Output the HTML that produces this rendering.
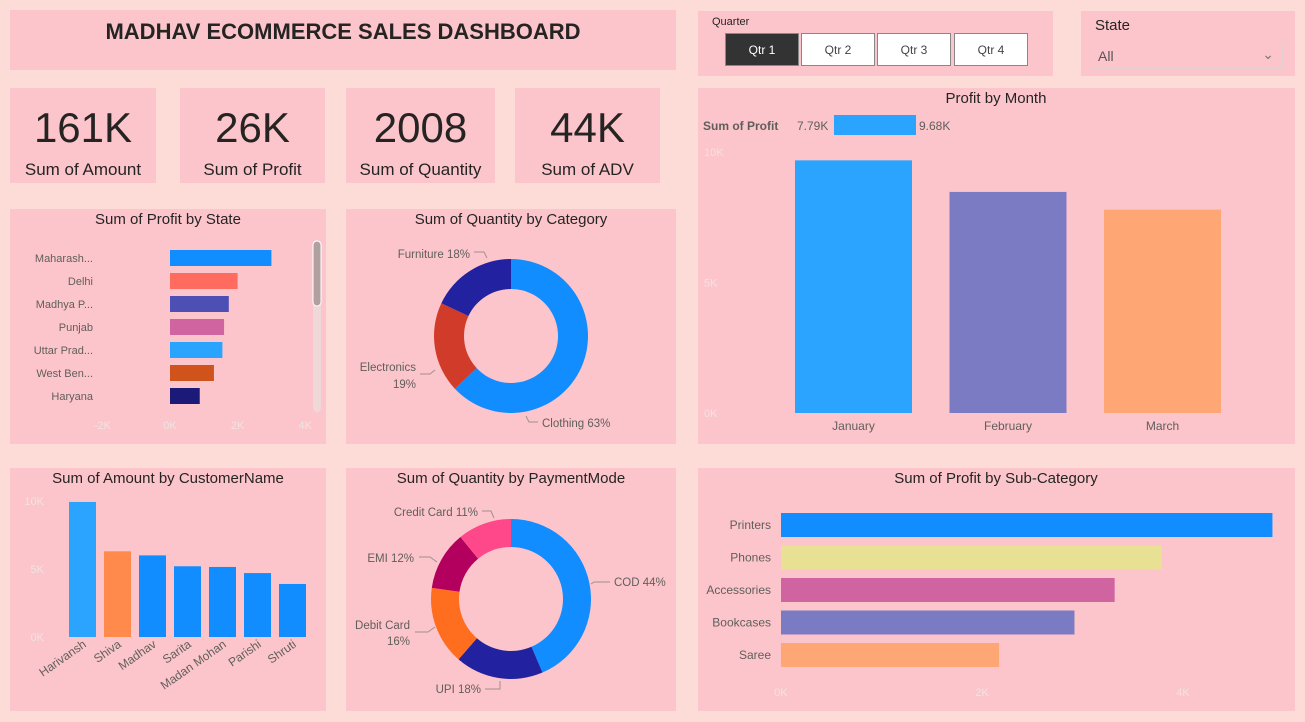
<!DOCTYPE html>
<html><head><meta charset="utf-8"><style>
body{margin:0;width:1305px;height:722px;background:#fddcd7;font-family:"Liberation Sans",sans-serif;position:relative;overflow:hidden}
.p{position:absolute;background:#fcc5cb}
.kv{position:absolute;left:0;right:0;text-align:center;font-size:42px;color:#252423;top:16px}
.kl{position:absolute;left:0;right:0;text-align:center;font-size:17px;color:#252423;top:72px}
.qb{position:absolute;top:22px;width:74px;height:33px;border:1px solid #888;background:#fff;font-size:12px;text-align:center;line-height:33px;color:#444;box-sizing:border-box}
svg{position:absolute;left:0;top:0}
</style></head><body>
<div class="p" style="left:10px;top:10px;width:666px;height:60px"><div style="text-align:center;font-size:22px;font-weight:bold;color:#252423;line-height:44px">MADHAV ECOMMERCE SALES DASHBOARD</div></div>
<div class="p" style="left:698px;top:11px;width:355px;height:65px">
<div style="position:absolute;left:14px;top:5px;font-size:11px;color:#252423">Quarter</div>
<div class="qb" style="left:27px;background:#333;color:#fff">Qtr 1</div>
<div class="qb" style="left:103px">Qtr 2</div>
<div class="qb" style="left:179px">Qtr 3</div>
<div class="qb" style="left:256px">Qtr 4</div></div>
<div class="p" style="left:1081px;top:11px;width:214px;height:65px">
<div style="position:absolute;left:14px;top:6px;font-size:15px;color:#252423">State</div>
<div style="position:absolute;left:10px;top:30px;width:192px;height:28px;border:1px solid #e6d0d2;box-sizing:border-box;font-size:14px;color:#555;line-height:28px;padding-left:6px">All<span style="position:absolute;right:8px;top:-2px;color:#777">&#8964;</span></div></div>
<div class="p" style="left:10px;top:88px;width:146px;height:95px"><div class="kv">161K</div><div class="kl">Sum of Amount</div></div>
<div class="p" style="left:180px;top:88px;width:145px;height:95px"><div class="kv">26K</div><div class="kl">Sum of Profit</div></div>
<div class="p" style="left:346px;top:88px;width:149px;height:95px"><div class="kv">2008</div><div class="kl">Sum of Quantity</div></div>
<div class="p" style="left:515px;top:88px;width:145px;height:95px"><div class="kv">44K</div><div class="kl">Sum of ADV</div></div>
<div class="p" style="left:10px;top:209px;width:316px;height:235px"></div>
<div class="p" style="left:346px;top:209px;width:330px;height:235px"></div>
<div class="p" style="left:698px;top:88px;width:597px;height:356px"></div>
<div class="p" style="left:10px;top:468px;width:316px;height:243px"></div>
<div class="p" style="left:346px;top:468px;width:330px;height:243px"></div>
<div class="p" style="left:698px;top:468px;width:597px;height:243px"></div>
<svg id="s" width="1305" height="722" font-family="Liberation Sans, sans-serif"></svg>
<script>
const stateNames=["Maharash...","Delhi","Madhya P...","Punjab","Uttar Prad...","West Ben...","Haryana"];
const stateProfit=[3.0,2.0,1.74,1.6,1.55,1.3,0.88];
const stateTicks=[-2,0,2,4];
const months=["January","February","March"];
const monthProfit=[9.68,8.47,7.79];
const monthTicks=[0,5,10];
const subcats=["Printers","Phones","Accessories","Bookcases","Saree"];
const subProfit=[4.89,3.79,3.32,2.92,2.17];
const subTicks=[0,2,4];
const customers=["Harivansh","Shiva","Madhav","Sarita","Madan Mohan","Parishi","Shruti"];
const custAmount=[9.93,6.3,6.0,5.2,5.15,4.7,3.9];
const custTicks=[0,5,10];
const categories=["Clothing","Electronics","Furniture"];
const catPct=[63,19,18];
const payModes=["COD","UPI","Debit Card","EMI","Credit Card"];
const payPct=[44,18,16,12,11];

const S=document.getElementById('s');const NS='http://www.w3.org/2000/svg';
function mk(t,a,txt){const e=document.createElementNS(NS,t);for(const k in a)e.setAttribute(k,a[k]);if(txt!==undefined)e.textContent=txt;S.appendChild(e);return e;}
function title(x,y,t,n){const e=mk('text',{x:x,y:y,'text-anchor':'middle','font-size':15,fill:'#252423'},t);}
const axc='#efe3e4',lc='#605e5c';
// state chart
title(168,224,'Sum of Profit by State','state-chart-title');
const sx=v=>170+v*33.8;
const sCol=['#118dff','#ff6b5f','#4e4fb5','#d064a0','#2aa4ff','#d0531b','#1c1a78'];
stateNames.forEach((n,i)=>{const y=258+i*23;
const r=mk('rect',{x:sx(0),y:y-8,width:sx(stateProfit[i])-sx(0),height:16,fill:sCol[i]});

const t=mk('text',{x:93,y:y+4,'text-anchor':'end','font-size':11,fill:lc},n);});
stateTicks.forEach(v=>{const t=mk('text',{x:sx(v),y:429,'text-anchor':'middle','font-size':11,fill:axc},v+'K');});
const sb=mk('rect',{x:313,y:240,width:8,height:172,rx:4,fill:'#f0d8d8'});
const st=mk('rect',{x:313,y:241,width:8,height:65,rx:4,fill:'#b0a0a0',stroke:'#fff'});
// month chart
title(996,103,'Profit by Month','month-chart-title');
const my=v=>413-v*26.1;
const mCol=['#2aa4ff','#7b7bc4','#ffa675'];
months.forEach((m,i)=>{const x=795+i*154.5;
const r=mk('rect',{x:x,y:my(monthProfit[i]),width:117,height:my(0)-my(monthProfit[i]),fill:mCol[i]});
const t=mk('text',{x:x+58.5,y:430,'text-anchor':'middle','font-size':12,fill:lc},m);});
monthTicks.forEach(v=>{const t=mk('text',{x:704,y:my(v)+4,'font-size':11,fill:axc},v+'K');});
const lg1=mk('text',{x:703,y:130,'font-size':12,'font-weight':'bold',fill:lc},'Sum of Profit');
const lg2=mk('text',{x:797,y:130,'font-size':12,fill:lc},Math.min(...monthProfit).toFixed(2)+'K');
const lg3=mk('rect',{x:834,y:115,width:82,height:20,fill:'#2aa4ff'});
const lg4=mk('text',{x:919,y:130,'font-size':12,fill:lc},Math.max(...monthProfit).toFixed(2)+'K');
// subcategory
title(996,483,'Sum of Profit by Sub-Category','subcategory-chart-title');
const bx=v=>781+v*100.5;
const bCol=['#118dff','#e8e193','#d064a0','#7b7bc4','#ffa675'];
subcats.forEach((n,i)=>{const y=525+i*32.5;
const r=mk('rect',{x:bx(0),y:y-12,width:bx(subProfit[i])-bx(0),height:24,fill:bCol[i]});
const t=mk('text',{x:771,y:y+4,'text-anchor':'end','font-size':12,fill:lc},n);});
subTicks.forEach(v=>{const t=mk('text',{x:bx(v),y:696,'text-anchor':'middle','font-size':11,fill:axc},v+'K');});
// customer
title(168,483,'Sum of Amount by CustomerName','customer-chart-title');
const cy=v=>637-v*13.6;
customers.forEach((n,i)=>{const x=69+i*35;
const r=mk('rect',{x:x,y:cy(custAmount[i]),width:27,height:cy(0)-cy(custAmount[i]),fill:i==0?'#2aa4ff':i==1?'#ff8a4b':'#118dff'});
const t=mk('text',{x:x+18,y:646,'text-anchor':'end','font-size':12,fill:lc,transform:`rotate(-35 ${x+18} 646)`},n);});
custTicks.forEach(v=>{const t=mk('text',{x:44,y:cy(v)+4,'text-anchor':'end','font-size':11,fill:axc},v+'K');});
// donuts
function donut(cx,cy0,R,r,vals,cols,name){const tot=vals.reduce((a,b)=>a+b,0);let a0=0;
vals.forEach((v,i)=>{const a1=a0+v/tot*2*Math.PI;const p=(a,rr)=>[cx+rr*Math.sin(a),cy0-rr*Math.cos(a)];
const [x1,y1]=p(a0,R),[x2,y2]=p(a1,R),[x3,y3]=p(a1,r),[x4,y4]=p(a0,r);const lg=a1-a0>Math.PI?1:0;
const e=mk('path',{d:`M${x1},${y1}A${R},${R} 0 ${lg} 1 ${x2},${y2}L${x3},${y3}A${r},${r} 0 ${lg} 0 ${x4},${y4}Z`,fill:cols[i]});a0=a1;});}
title(511,224,'Sum of Quantity by Category','category-chart-title');
donut(511,336,77,47,catPct,['#118dff','#d13b2a','#2222a0'],'category-slice');
title(511,483,'Sum of Quantity by PaymentMode','payment-chart-title');
donut(511,599,80,52,payPct,['#118dff','#2222a0','#ff6d1f','#b3005f','#ff4889'],'payment-slice');
function lab(x,y,t,anc,n){const e=mk('text',{x:x,y:y,'text-anchor':anc,'font-size':11.5,fill:lc},t);}
function ln(d){mk('path',{d:d,stroke:'#a09090',fill:'none','stroke-width':1});}
lab(470,258,categories[2]+' '+catPct[2]+'%','end','furniture-label');ln('M474,252h10l3,6');
lab(416,371,categories[1],'end','electronics-label');lab(416,388,catPct[1]+'%','end','electronics-pct');ln('M420,374h10l5,-4');
lab(542,427,categories[0]+' '+catPct[0]+'%','start','clothing-label');ln('M538,422h-9l-3,-6');
lab(478,516,payModes[4]+' '+payPct[4]+'%','end','credit-card-label');ln('M482,511h9l3,7');
lab(414,562,payModes[3]+' '+payPct[3]+'%','end','emi-label');ln('M419,557h11l7,5');
lab(614,586,payModes[0]+' '+payPct[0]+'%','start','cod-label');ln('M610,582h-16l-3,2');
lab(410,629,payModes[2],'end','debit-card-label');lab(410,645,payPct[2]+'%','end','debit-card-pct');ln('M415,632h13l7,-5');
lab(481,693,payModes[1]+' '+payPct[1]+'%','end','upi-label');ln('M485,689h15v-8');
</script></body></html>
